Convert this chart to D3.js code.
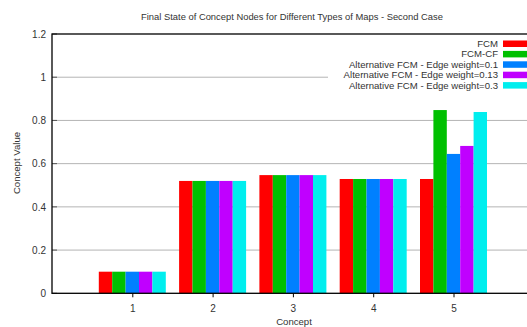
<!DOCTYPE html>
<html><head><meta charset="utf-8">
<script src="https://cdn.jsdelivr.net/npm/d3@7"></script>
<style>body{margin:0;background:#fff}svg{display:block;font-family:"Liberation Sans",Arial,sans-serif}</style>
</head><body><svg id="c" width="527" height="327"></svg>
<script>
const categories = [1, 2, 3, 4, 5];
const seriesNames = ["FCM", "FCM-CF", "Alternative FCM - Edge weight=0.1", "Alternative FCM - Edge weight=0.13", "Alternative FCM - Edge weight=0.3"];
const fcm    = [0.10, 0.52, 0.547, 0.529, 0.529];
const fcmCF  = [0.10, 0.52, 0.547, 0.529, 0.848];
const alt01  = [0.10, 0.52, 0.547, 0.529, 0.645];
const alt013 = [0.10, 0.52, 0.547, 0.529, 0.682];
const alt03  = [0.10, 0.52, 0.547, 0.529, 0.839];
const yTicks = [0, 0.2, 0.4, 0.6, 0.8, 1, 1.2];
const colors = ["#ff0000", "#00c000", "#0080ff", "#c000ff", "#00eeee"];
const seriesValues = [fcm, fcmCF, alt01, alt013, alt03];

const svg = d3.select("#c");
const L = 52, T = 34, B = 293.3, unit = 80.3;
const x = d3.scaleLinear().domain([0, 6]).range([L, L + 6 * unit]);
const y = d3.scaleLinear().domain([0, 1.2]).range([B, T]);
const inner = d3.scaleBand().domain(d3.range(seriesNames.length)).range([-33.5, 33.5]).padding(0);

// grid
svg.append("g").selectAll("line").data(yTicks.filter(t => t > 0 && t < 1.2)).join("line")
  .attr("x1", L).attr("x2", 527).attr("y1", d => y(d)).attr("y2", d => y(d))
  .attr("stroke", "#b4b4b4").attr("stroke-width", 1);
// inner y tick marks
svg.append("g").selectAll("line").data(yTicks).join("line")
  .attr("x1", L).attr("x2", L + 5).attr("y1", d => y(d)).attr("y2", d => y(d))
  .attr("stroke", "#555").attr("stroke-width", 1);

// bars
const flat = [];
seriesValues.forEach((vals, s) => vals.forEach((v, i) => flat.push({s, c: categories[i], v})));
svg.append("g").selectAll("rect").data(flat).join("rect")
  .attr("x", d => x(d.c) + inner(d.s))
  .attr("width", inner.bandwidth())
  .attr("y", d => y(d.v))
  .attr("height", d => y(0) - y(d.v))
  .attr("fill", d => colors[d.s]);

// legend backdrop (hides grid under legend)
svg.append("rect").attr("x", 328).attr("y", 37).attr("width", 200).attr("height", 53).attr("fill", "#fff");

// frame
svg.append("rect").attr("x", L).attr("y", T).attr("width", 6 * unit).attr("height", B - T)
  .attr("fill", "none").attr("stroke", "#000").attr("stroke-width", 1.3);

// axes
const xAxis = d3.axisBottom(x).tickValues(categories).tickSize(4).tickPadding(8).tickFormat(d3.format("d"));
const gx = svg.append("g").attr("transform", `translate(0,${B})`).call(xAxis);
gx.select(".domain").remove();
gx.selectAll("text").attr("font-size", 10).attr("fill", "#333").attr("font-family", "Liberation Sans, Arial, sans-serif");
gx.selectAll("line").attr("stroke", "#000");

const yAxis = d3.axisLeft(y).tickValues(yTicks).tickSize(0).tickPadding(6).tickFormat(d => String(d));
const gy = svg.append("g").attr("transform", `translate(${L},0)`).call(yAxis);
gy.select(".domain").remove();
gy.selectAll("text").attr("font-size", 10).attr("fill", "#333").attr("font-family", "Liberation Sans, Arial, sans-serif");

// titles
svg.append("text").attr("x", 292).attr("y", 20).attr("text-anchor", "middle")
  .attr("font-size", 9.4).attr("fill", "#333").text("Final State of Concept Nodes for Different Types of Maps - Second Case");
svg.append("text").attr("x", 294).attr("y", 324.5).attr("text-anchor", "middle")
  .attr("font-size", 9.6).attr("fill", "#333").text("Concept");
svg.append("text").attr("transform", "translate(20,163) rotate(-90)").attr("text-anchor", "middle")
  .attr("font-size", 9.6).attr("fill", "#333").text("Concept Value");

// legend
const lg = svg.append("g").selectAll("g").data(seriesNames).join("g")
  .attr("transform", (d, i) => `translate(0,${43.5 + i * 10.4})`);
lg.append("text").attr("x", 498).attr("y", 3.5).attr("text-anchor", "end")
  .attr("font-size", 9.6).attr("fill", "#333").text(d => d);
lg.append("rect").attr("x", 503).attr("y", -3).attr("width", 36).attr("height", 6.5)
  .attr("fill", (d, i) => colors[i]);
</script></body></html>
